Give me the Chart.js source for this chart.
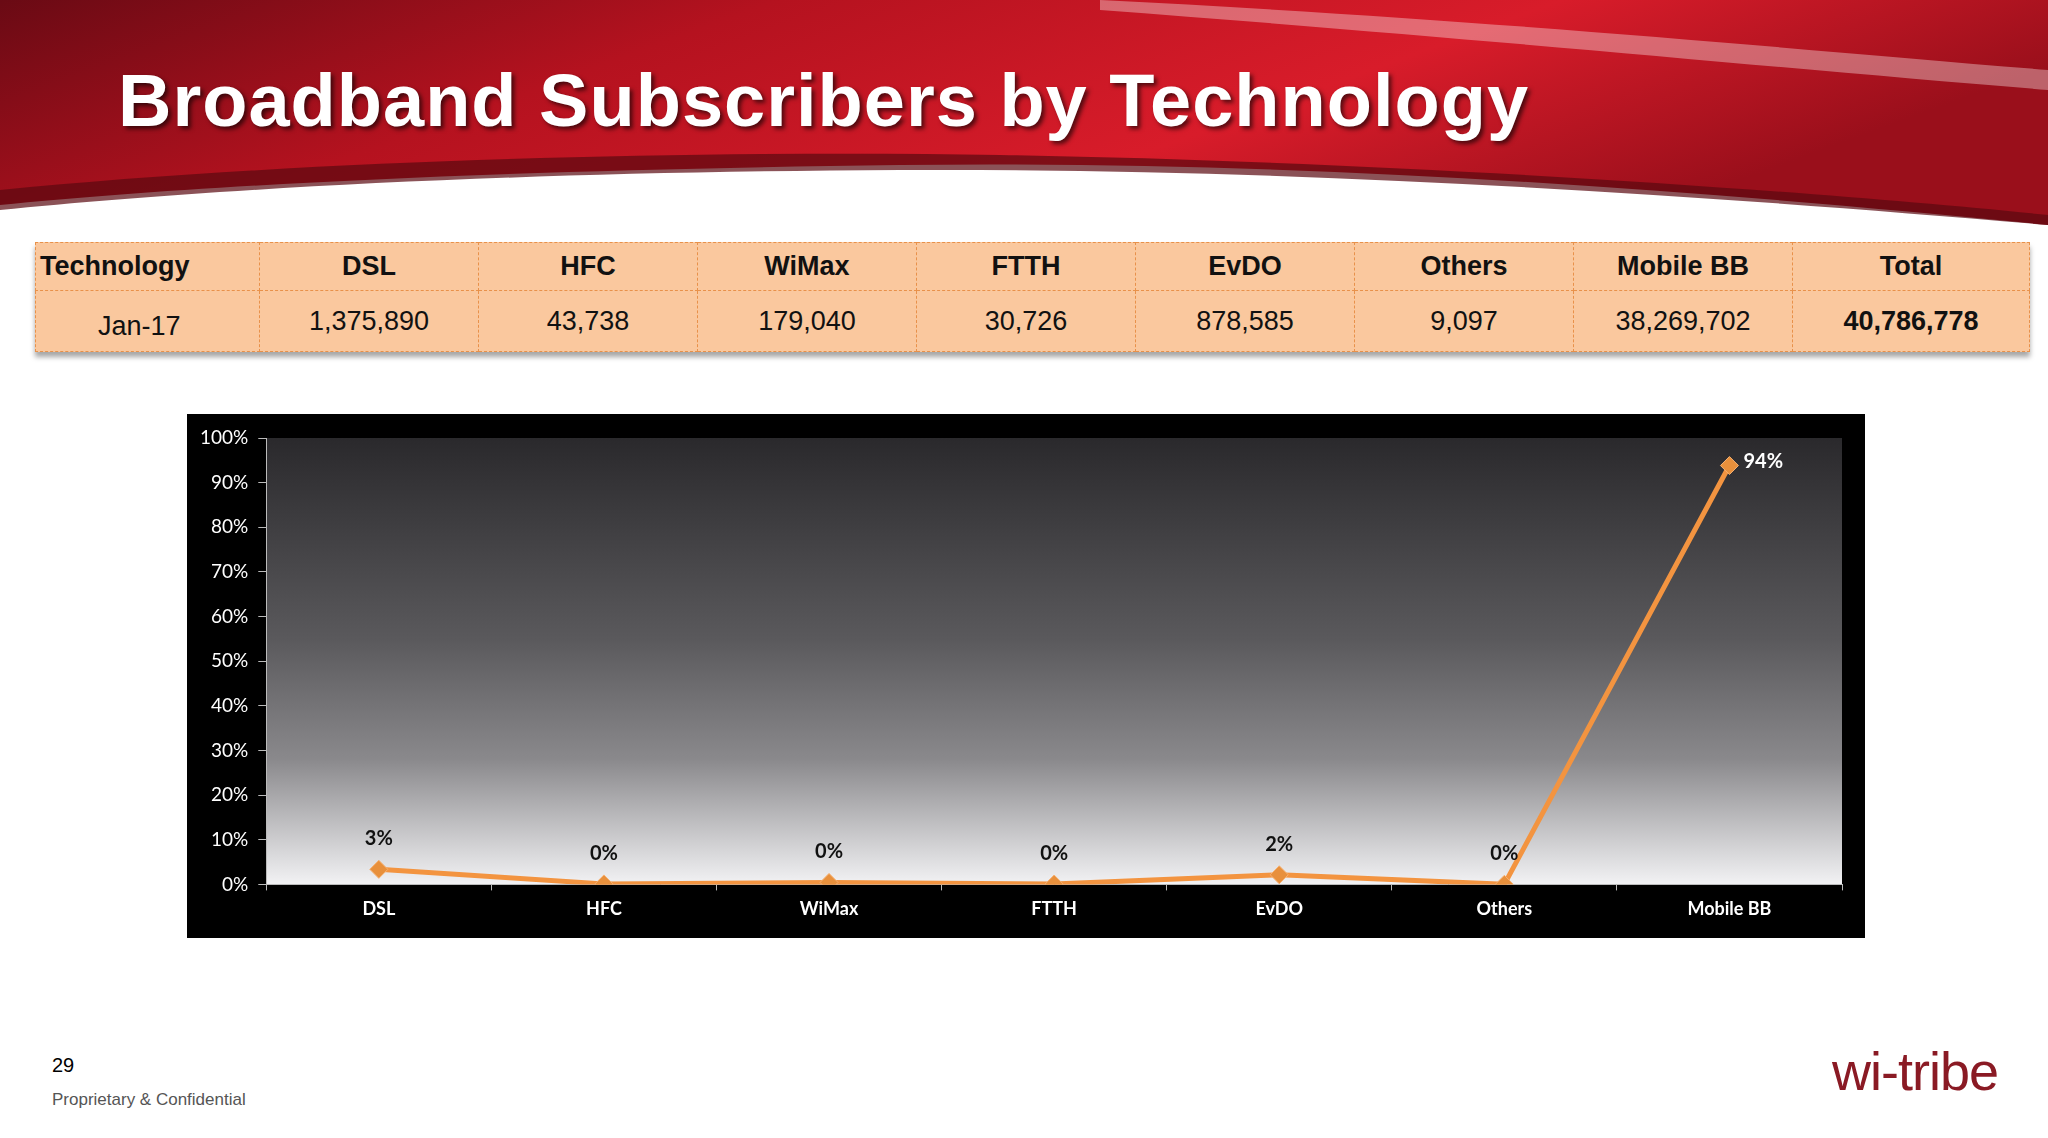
<!DOCTYPE html>
<html><head><meta charset="utf-8">
<script src="https://cdn.jsdelivr.net/npm/chart.js@4/dist/chart.umd.min.js"></script>
<style>
body{margin:0;width:2048px;height:1138px;background:#fff;position:relative;overflow:hidden;font-family:"Liberation Sans",Arial,sans-serif}
#banner{position:absolute;left:0;top:0}
#title{position:absolute;left:118px;top:58px;color:#fff;font-weight:bold;font-size:74px;text-shadow:3px 3px 4px rgba(0,0,0,.6);letter-spacing:1px}
table{position:absolute;left:35px;top:242px;width:1995px;border-collapse:collapse;background:#fac89e;box-shadow:0 5px 5px rgba(0,0,0,.35);table-layout:fixed}
td{border:1.5px dashed #e8914a;text-align:center;font-size:27px;color:#111;padding:0}
tr.h td{font-weight:bold;height:47px}
tr.d td{height:50px}
#box{position:absolute;left:187px;top:414px;width:1678px;height:524px;background:#000}
#foot1{position:absolute;left:52px;top:1054px;font-size:20px}
#foot2{position:absolute;left:52px;top:1090px;font-size:17px;color:#555}
#logo{position:absolute;left:1832px;top:1040px;font-size:54px;color:#8a1a24;font-family:"Liberation Sans";letter-spacing:-1px}
</style></head><body>
<svg id="banner" width="2048" height="240">
<defs><linearGradient id="g" x1="0" y1="0" x2="1" y2="0.3">
<stop offset="0" stop-color="#6a0a14"/><stop offset="0.35" stop-color="#b5121f"/><stop offset="0.7" stop-color="#d81c2a"/><stop offset="1" stop-color="#9a0f1b"/></linearGradient></defs>
<path d="M0,0 H2048 V225 C1700,190 1300,160 900,165 C500,170 200,185 0,205 Z" fill="url(#g)"/>
<path d="M0,190 C300,160 700,150 1000,155 C1400,162 1800,190 2048,215 V225 C1700,195 1300,168 900,170 C500,172 200,190 0,210 Z" fill="#5a0810" opacity=".7"/>
<path d="M1100,0 C1500,20 1800,50 2048,70 V90 C1800,70 1500,40 1100,10Z" fill="#fff" opacity=".35"/>
</svg>
<div id="title">Broadband Subscribers by Technology</div>
<table>
<colgroup><col style="width:224px"><col><col><col><col><col><col><col><col style="width:237px"></colgroup>
<tr class="h"><td style="text-align:left;padding-left:4px">Technology</td><td>DSL</td><td>HFC</td><td>WiMax</td><td>FTTH</td><td>EvDO</td><td>Others</td><td>Mobile BB</td><td>Total</td></tr>
<tr class="d"><td style="text-align:left;padding-left:62px;padding-top:10px">Jan-17</td><td>1,375,890</td><td>43,738</td><td>179,040</td><td>30,726</td><td>878,585</td><td>9,097</td><td>38,269,702</td><td style="font-weight:bold">40,786,778</td></tr>
</table>
<div id="box"><canvas id="c" width="1678" height="524"></canvas></div>
<div id="foot1">29</div>
<div id="foot2">Proprietary &amp; Confidential</div>
<div id="logo">wi-tribe</div>
<script>
const categories=["DSL","HFC","WiMax","FTTH","EvDO","Others","Mobile BB"];
const shares=[3.37,0.11,0.44,0.08,2.15,0.02,93.83];
const labels=["3%","0%","0%","0%","2%","0%","94%"];
const yTicks=[0,10,20,30,40,50,60,70,80,90,100];
const bg={id:"bg",beforeDraw(ch){const a=ch.chartArea,x=ch.ctx;const g=x.createLinearGradient(0,a.top,0,a.bottom);
g.addColorStop(0,"#2a292c");g.addColorStop(0.45,"#5a595c");g.addColorStop(0.72,"#8a898c");g.addColorStop(1,"#f2f2f4");
x.fillStyle=g;x.fillRect(a.left,a.top,a.right-a.left,a.bottom-a.top);}};
const lbl={id:"lbl",afterDatasetsDraw(ch){const x=ch.ctx,m=ch.getDatasetMeta(0);x.save();x.font="bold 20px Lato, 'Liberation Sans'";
m.data.forEach((p,i)=>{const last=i===labels.length-1;x.fillStyle=last?"#fff":"#111";
if(last){x.textAlign="left";x.fillText(labels[i],p.x+14,p.y+2);}else{x.textAlign="center";x.fillText(labels[i],p.x,p.y-24);}});x.restore();}};
new Chart(document.getElementById("c"),{type:"line",
data:{labels:categories,datasets:[{data:shares,borderColor:"#f39440",borderWidth:5,pointStyle:"rectRot",pointRadius:9,pointBackgroundColor:"#e8903c",pointBorderColor:"#f6b070",pointBorderWidth:1,tension:0}]},
options:{responsive:false,animation:false,layout:{padding:{top:24,right:23,bottom:10,left:3}},
plugins:{legend:{display:false},tooltip:{enabled:false}},
scales:{x:{offset:true,border:{color:"#bbb"},ticks:{color:"#fff",font:{size:18,weight:"bold",family:"Lato"},padding:8},
 grid:{offset:true,drawOnChartArea:false,color:"#bbb",tickLength:6}},
 y:{min:0,max:100,afterBuildTicks(s){s.ticks=yTicks.map(v=>({value:v}));},grid:{drawOnChartArea:false,color:"#bbb",tickLength:8},border:{color:"#bbb"},
 ticks:{color:"#fff",font:{size:19,family:"Lato"},callback:v=>v+"%",padding:10}}}},
plugins:[bg,lbl]});
</script>
</body></html>
